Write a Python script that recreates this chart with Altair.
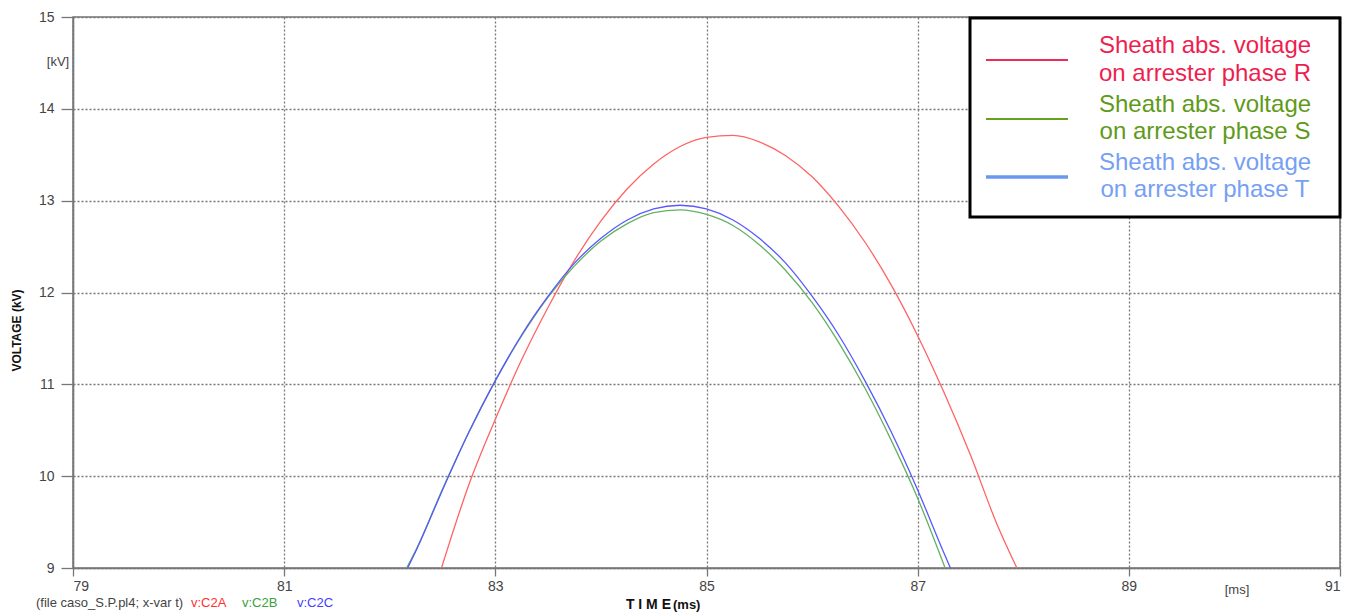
import altair as alt
import pandas as pd

# ---- data ----
series_names = ["R", "S", "T"]
line_colors = ["#ff6464", "#62b262", "#5858ff"]

red_t = [82.49, 82.75, 83.0, 83.25, 83.5, 83.75, 84.0, 84.25, 84.5, 84.75, 85.0, 85.25,
         85.5, 85.75, 86.0, 86.25, 86.5, 86.75, 87.0, 87.25, 87.5, 87.75, 87.94]
red_v = [9.0, 9.91, 10.62, 11.27, 11.84, 12.35, 12.78, 13.13, 13.40, 13.59, 13.69, 13.71,
         13.64, 13.49, 13.26, 12.94, 12.55, 12.08, 11.53, 10.91, 10.23, 9.48, 9.0]

green_t = [82.16, 82.25, 82.5, 82.75, 83.0, 83.25, 83.5, 83.75, 84.0, 84.25, 84.5, 84.75,
           85.0, 85.25, 85.5, 85.75, 86.0, 86.25, 86.5, 86.75, 87.0, 87.26]
green_v = [9.0, 9.20, 9.86, 10.48, 11.04, 11.53, 11.95, 12.29, 12.56, 12.75, 12.87, 12.90,
           12.85, 12.73, 12.52, 12.24, 11.89, 11.46, 10.96, 10.39, 9.76, 9.0]

blue_t = [82.17, 82.25, 82.5, 82.75, 83.0, 83.25, 83.5, 83.75, 84.0, 84.25, 84.5, 84.75,
          85.0, 85.25, 85.5, 85.75, 86.0, 86.25, 86.5, 86.75, 87.0, 87.25, 87.31]
blue_v = [9.0, 9.19, 9.85, 10.48, 11.04, 11.54, 11.96, 12.32, 12.59, 12.79, 12.91, 12.95,
          12.91, 12.79, 12.59, 12.32, 11.96, 11.54, 11.04, 10.48, 9.85, 9.16, 9.0]

x_ticks = [79, 81, 83, 85, 87, 89, 91]
y_ticks = [9, 10, 11, 12, 13, 14, 15]

legend_line1 = ["Sheath abs. voltage", "Sheath abs. voltage", "Sheath abs. voltage"]
legend_line2 = ["on arrester phase R", "on arrester phase S", "on arrester phase T"]
legend_text_colors = ["#ee1f50", "#5f9a18", "#76a0f4"]
legend_swatch_colors = ["#ee2a58", "#66a020", "#6a98ee"]

footer_main = "(file caso_S.P.pl4; x-var t)"
footer_vars = ["v:C2A", "v:C2B", "v:C2C"]
footer_colors = ["#ff3030", "#3aa03a", "#4040ff"]

FONT = "Liberation Sans"

rows = []
for name, ts, vs in zip(series_names, [red_t, green_t, blue_t], [red_v, green_v, blue_v]):
    for t, v in zip(ts, vs):
        rows.append({"t": t, "v": v, "series": name})
df = pd.DataFrame(rows)

W, H = 1267, 551

x_scale = alt.Scale(domain=[79, 91], nice=False, zero=False)
y_scale = alt.Scale(domain=[9, 15], nice=False, zero=False)

lines = alt.Chart(df).mark_line(strokeWidth=1.3, interpolate="monotone", clip=True).encode(
    x=alt.X("t:Q", scale=x_scale,
            axis=alt.Axis(values=x_ticks, title=None, grid=True, tickSize=8, labelPadding=3,
                          format="d")),
    y=alt.Y("v:Q", scale=y_scale,
            axis=alt.Axis(values=y_ticks, title="VOLTAGE (kV)", grid=True, tickSize=12,
                          labelPadding=7, format="d",
                          titleX=-57, titleY=313, titleAngle=-90, titleAlign="center",
                          titleBaseline="middle", titleFontWeight="bold", titleFontSize=12,
                          titleColor="#111", titleFont=FONT)),
    color=alt.Color("series:N", scale=alt.Scale(domain=series_names, range=line_colors),
                    legend=None),
)


def txt(text, x, y, size, color, weight="normal", align="left", baseline="middle"):
    return alt.Chart(pd.DataFrame({"s": [text]})).mark_text(
        font=FONT, fontSize=size, color=color, fontWeight=weight, align=align,
        baseline=baseline
    ).encode(text="s:N", x=alt.value(x), y=alt.value(y))


layers = [lines]

# legend box
box = alt.Chart(pd.DataFrame({"a": [0]})).mark_rect(
    fill="white", stroke="black", strokeWidth=3
).encode(x=alt.value(897), x2=alt.value(1267), y=alt.value(1), y2=alt.value(200))
layers.append(box)

swatch_y = [43, 102, 160]
text_y1 = [29, 88, 146]
text_y2 = [57, 115, 173]
swatch_w = [2, 2, 3.5]
for i in range(3):
    layers.append(
        alt.Chart(pd.DataFrame({"a": [0]})).mark_rule(
            color=legend_swatch_colors[i], strokeWidth=swatch_w[i]
        ).encode(x=alt.value(913), x2=alt.value(995), y=alt.value(swatch_y[i]))
    )
    layers.append(txt(legend_line1[i], 1132, text_y1[i], 24, legend_text_colors[i], align="center"))
    layers.append(txt(legend_line2[i], 1132, text_y2[i], 24, legend_text_colors[i], align="center"))

# unit labels and titles
layers.append(txt("[kV]", -15, 45, 13, "#444", align="center"))
layers.append(txt("[ms]", 1164, 573, 13, "#444", align="center"))
layers.append(txt("T I M E", 598, 588, 14, "#111", weight="bold", align="right"))
layers.append(txt("(ms)", 600, 588, 13, "#111", weight="bold", align="left"))

# footer
layers.append(txt(footer_main, -37, 586, 13, "#444"))
footer_x = [118, 169, 224]
for i in range(3):
    layers.append(txt(footer_vars[i], footer_x[i], 586, 13, footer_colors[i]))

chart = alt.layer(*layers).properties(
    width=W, height=H,
    autosize=alt.AutoSizeParams(type="none"),
    padding={"left": 73, "top": 17, "right": 23, "bottom": 45},
    background="white",
).configure_view(
    stroke="#777", strokeWidth=1.5
).configure_axis(
    labelFont=FONT, labelFontSize=14, labelColor="#444",
    tickColor="#777", tickWidth=1.3,
    domainColor="#777", domainWidth=1.5,
    gridColor="#777", gridDash=[2, 2], gridWidth=1.3,
)

chart.save("out.html", embed_options={"renderer": "svg", "actions": False})
